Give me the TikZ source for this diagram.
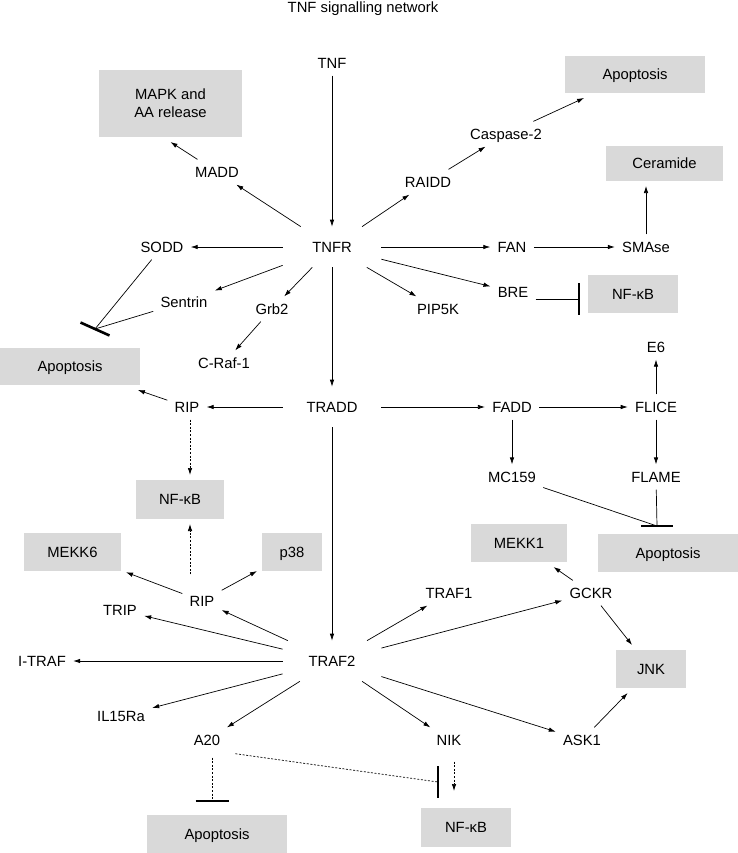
\documentclass[tikz,border=0pt]{standalone}
\usepackage{fontspec}
\setmainfont{Liberation Sans}
\usetikzlibrary{arrows.meta}
\definecolor{boxgray}{RGB}{217,217,217}
\tikzset{
  lbl/.style={inner sep=7pt, text height=10.5pt, text depth=0pt},
  hub/.style={minimum width=98pt, minimum height=40pt, inner sep=0pt, text height=10.5pt, text depth=0pt},
  outbox/.style={fill=boxgray, outer sep=5pt, minimum height=38pt, text height=10.5pt, text depth=0pt},
  dotline/.style={dash pattern=on 2pt off 1.6pt},
  inhbar/.style={line width=2.6pt},
}
\begin{document}
\begin{tikzpicture}[x=1pt, y=-1pt, line width=0.7pt, >={Latex[length=7pt,width=4.5pt]}, font=\fontsize{14.8}{18}\selectfont]
    \useasboundingbox (0,0) rectangle (738,853);

    % title
    \node[lbl] (title) at (363,7) {TNF signalling network};

    % receptor level
    \node[lbl] (tnf) at (332,63) {TNF};
    \node[hub] (tnfr) at (332,247) {TNFR};
    \node[lbl] (madd) at (217,172) {MADD};
    \node[lbl] (raidd) at (428,182) {RAIDD};
    \node[lbl] (casp) at (506,134) {Caspase-2};
    \node[lbl] (sodd) at (162,247) {SODD};
    \node[lbl] (fan) at (512,247) {FAN};
    \node[lbl] (smase) at (646,247) {SMAse};
    \node[lbl] (bre) at (513,292) {BRE};
    \node[lbl] (sentrin) at (184,302) {Sentrin};
    \node[lbl] (grb) at (272,309) {Grb2};
    \node[lbl] (pip) at (438,309) {PIP5K};
    \node[lbl] (craf) at (224,363) {C-Raf-1};

    % TRADD level
    \node[hub] (tradd) at (332,407) {TRADD};
    \node[lbl] (rip1) at (187,407) {RIP};
    \node[lbl] (fadd) at (512,407) {FADD};
    \node[lbl] (flice) at (656,407) {FLICE};
    \node[lbl] (e6) at (656,347) {E6};
    \node[lbl] (mc) at (512,477) {MC159};
    \node[lbl] (flame) at (656,477) {FLAME};

    % TRAF2 level
    \node[hub] (traf2) at (332,661) {TRAF2};
    \node[lbl] (rip2) at (202,601) {RIP};
    \node[lbl] (trip) at (120,610) {TRIP};
    \node[lbl] (itraf) at (42,661) {I-TRAF};
    \node[lbl] (il) at (121,716) {IL15Ra};
    \node[lbl] (a20) at (207,740) {A20};
    \node[lbl] (nik) at (449,740) {NIK};
    \node[lbl] (ask) at (582,740) {ASK1};
    \node[lbl] (traf1) at (449,593) {TRAF1};
    \node[lbl] (gckr) at (591,593) {GCKR};

    % grey output boxes
    \node[fill=boxgray, outer sep=5pt, minimum width=143pt, minimum height=67pt, align=center] (mapk) at (170.5,103.5) {MAPK and\\AA release};
    \node[outbox, minimum width=140pt, minimum height=37pt] (apo1) at (635,74.5) {Apoptosis};
    \node[outbox, minimum width=117pt, minimum height=35pt] (cer) at (664.5,163.5) {Ceramide};
    \node[outbox, minimum width=90pt] (nfkb1) at (633,294) {NF-κB};
    \node[outbox, minimum width=140pt, minimum height=37pt] (apo2) at (70,366.5) {Apoptosis};
    \node[outbox, minimum width=88pt, minimum height=39pt] (nfkb2) at (180,499.5) {NF-κB};
    \node[outbox, minimum width=97pt] (mekk6) at (72.5,552) {MEKK6};
    \node[outbox, minimum width=60pt] (p38) at (292,552) {p38};
    \node[outbox, minimum width=96pt] (mekk1) at (519,543) {MEKK1};
    \node[outbox, minimum width=140pt] (apo3) at (668,553) {Apoptosis};
    \node[outbox, minimum width=70pt] (jnk) at (651,669) {JNK};
    \node[outbox, minimum width=140pt] (apo4) at (217,834) {Apoptosis};
    \node[outbox, minimum width=90pt, minimum height=39pt] (nfkb3) at (466,827.5) {NF-κB};

    % inhibition bars
    \coordinate (barS) at (95,329);
    \coordinate (barB) at (579,299);
    \coordinate (barF) at (657,526);
    \coordinate (barA) at (212,801);
    \coordinate (barN) at (438,782);
    \draw[inhbar] ([shift={(-14.5,-6.5)}]barS) -- ([shift={(14.5,6.5)}]barS);
    \draw[inhbar] ([shift={(0,-16)}]barB) -- ([shift={(0,16)}]barB);
    \draw[inhbar] ([shift={(-16,0)}]barF) -- ([shift={(16,0)}]barF);
    \draw[inhbar] ([shift={(-16.5,0)}]barA) -- ([shift={(16.5,0)}]barA);
    \draw[inhbar] ([shift={(0,-16)}]barN) -- ([shift={(0,16)}]barN);

    % TNFR branches
    \draw[->] (tnf) -- (tnfr);
    \foreach \t in {madd, raidd, sodd, sentrin, grb, tradd, pip, bre, fan}
        \draw[->] (tnfr) -- (\t);
    \draw[->] (madd) -- (mapk.south);
    \draw[->] (raidd) -- (casp);
    \draw[->] (casp) -- (apo1);
    \draw[->] (fan) -- (smase);
    \draw[->] (smase) -- (smase |- cer.south);
    \draw[->] (grb) -- (craf);
    \draw (bre.east |- barB) -- (barB);
    \draw (sodd) -- (barS);
    \draw (sentrin) -- (barS);

    % TRADD branches
    \draw[->] (tradd) -- (rip1);
    \draw[->] (tradd) -- (fadd);
    \draw[->] (tradd) -- (traf2);
    \draw[->] (rip1) -- (apo2);
    \draw[dotline, ->] ([xshift=3pt]rip1.south) -- ([xshift=3pt]rip1.south |- nfkb2.north);
    \draw[->] (fadd) -- (flice);
    \draw[->] (flice) -- (e6);
    \draw[->] (fadd) -- (mc);
    \draw[->] (flice) -- (flame);
    \draw (flame) -- (barF);
    \draw (mc) -- (barF);

    % TRAF2 branches
    \foreach \t in {rip2, trip, itraf, il, a20, nik, ask, traf1, gckr}
        \draw[->] (traf2) -- (\t);
    \draw[->] (rip2) -- (mekk6);
    \draw[->] (rip2) -- (p38);
    \draw[dotline, ->, shorten <=14pt] ([xshift=3pt]rip1.south |- rip2.north) -- ([xshift=3pt]rip1.south |- nfkb2.south);
    \draw[->] (gckr) -- (mekk1);
    \draw[->] (gckr) -- (jnk);
    \draw[->] (ask) -- (jnk);
    \draw[dotline, shorten <=5pt] (a20.south -| barA) -- (barA);
    \draw[dotline, shorten <=8pt] (a20.south east) -- (barN);
    \draw[dotline, ->, shorten <=9pt, shorten >=12pt] ([xshift=5pt]nik.south) -- ([xshift=5pt]nik.south |- nfkb3.north);

\end{tikzpicture}
\end{document}
